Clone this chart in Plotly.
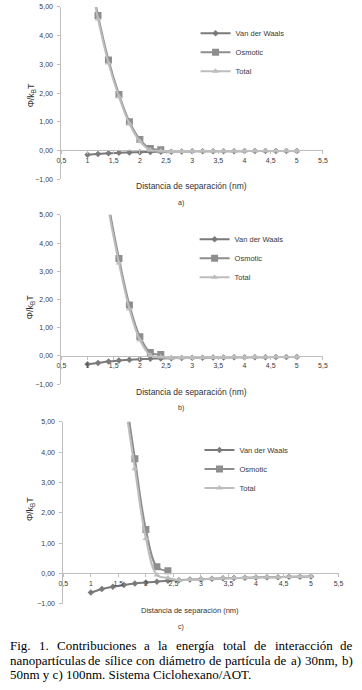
import plotly.graph_objects as go

# ---------------- data ----------------
x_all = [1.0, 1.2, 1.4, 1.6, 1.8, 2.0, 2.2, 2.4, 2.6, 2.8, 3.0,
         3.2, 3.4, 3.6, 3.8, 4.0, 4.2, 4.4, 4.6, 4.8, 5.0]
x_osm = [1.0, 1.2, 1.4, 1.6, 1.8, 2.0, 2.2, 2.4]

# a) 30 nm
vdw_a = [-0.15, -0.12, -0.10, -0.08, -0.07, -0.06, -0.05, -0.045, -0.04, -0.035, -0.03,
         -0.03, -0.03, -0.025, -0.025, -0.02, -0.02, -0.02, -0.02, -0.02, -0.02]
osm_a = [6.6, 4.70, 3.15, 1.95, 1.00, 0.38, 0.07, 0.03]
tot_a = [6.45, 4.58, 3.05, 1.87, 0.93, 0.32, 0.02, -0.015, -0.04, -0.035, -0.03,
         -0.03, -0.03, -0.025, -0.025, -0.02, -0.02, -0.02, -0.02, -0.02, -0.02]

# b) 50 nm
vdw_b = [-0.30, -0.25, -0.20, -0.16, -0.14, -0.12, -0.10, -0.09, -0.08, -0.075, -0.07,
         -0.065, -0.06, -0.055, -0.05, -0.05, -0.045, -0.045, -0.04, -0.04, -0.04]
osm_b = [12.0, 8.0, 5.4, 3.45, 1.80, 0.68, 0.12, 0.05]
tot_b = [11.7, 7.75, 5.2, 3.29, 1.66, 0.56, 0.02, -0.04, -0.08, -0.075, -0.07,
         -0.065, -0.06, -0.055, -0.05, -0.05, -0.045, -0.045, -0.04, -0.04, -0.04]

# c) 100 nm
vdw_c = [-0.63, -0.51, -0.44, -0.38, -0.33, -0.30, -0.27, -0.24, -0.22, -0.20, -0.19,
         -0.17, -0.16, -0.15, -0.14, -0.13, -0.125, -0.12, -0.11, -0.105, -0.10]
osm_c = [26.0, 17.0, 11.0, 6.4, 3.78, 1.45, 0.22, 0.09]
tot_c = [25.4, 16.5, 10.6, 6.0, 3.45, 1.15, -0.05, -0.15, -0.22, -0.20, -0.19,
         -0.17, -0.16, -0.15, -0.14, -0.13, -0.125, -0.12, -0.11, -0.105, -0.10]

series_names = ["Van der Waals", "Osmotic", "Total"]
y_ticks = [-1, 0, 1, 2, 3, 4, 5]
x_ticks = [0.5, 1, 1.5, 2, 2.5, 3, 3.5, 4, 4.5, 5, 5.5]
panel_labels = ["a)", "b)", "c)"]
x_title = "Distancia de separación (nm)"
y_title = "Φ/k<sub>B</sub>T"
caption_lines = [
    "Fig. 1. Contribuciones a la energía total de interacción de",
    "nanopartículas de sílice con diámetro de partícula de a) 30nm, b)",
    "50nm y c) 100nm. Sistema Ciclohexano/AOT.",
]

# ---------------- layout helpers ----------------
W, H = 362, 690
def px(xp): return xp / W
def py(yp): return 1 - yp / H

SANS = "Liberation Sans, Arial, sans-serif"
SERIF = "Liberation Serif, Times New Roman, serif"
TXT = "#3a3a3a"
AXC = "#bfbfbf"
COLORS = ["#7a7a7a", "#8e8e8e", "#bdbdbd"]
SYMBOLS = ["diamond", "square", "triangle-up"]
SIZES = [5, 7, 6]

# pixel geometry of each panel
panels = [
    dict(x0=58, x1=327, ytop=3, ybot=177, legx=196, legy=15, xt_y=184, xt_x=192, xt_size=8.5,
         yt_x=27, yt_y=92, lab_y=201),
    dict(x0=58, x1=327, ytop=213, ybot=384, legx=195, legy=223, xt_y=392, xt_x=192, xt_size=8.5,
         yt_x=27, yt_y=306, lab_y=408),
    dict(x0=60, x1=343, ytop=422, ybot=606, legx=200, legy=436, xt_y=613, xt_x=190, xt_size=7.5,
         yt_x=27, yt_y=510, lab_y=629),
]
data = [(vdw_a, osm_a, tot_a), (vdw_b, osm_b, tot_b), (vdw_c, osm_c, tot_c)]

fig = go.Figure()
layout = {}
annotations = []

for i, (p, (vdw, osm, tot)) in enumerate(zip(panels, data)):
    k = "" if i == 0 else str(i + 1)
    xa, ya, lg = "x" + k, "y" + k, "legend" + k
    ylo, yhi = py(p["ybot"]), py(p["ytop"])
    zero_pos = ylo + (yhi - ylo) / 6.0
    layout["xaxis" + k] = dict(
        domain=[px(p["x0"]), px(p["x1"])], range=[0.5, 5.5], tickvals=x_ticks,
        anchor="free", position=zero_pos, showline=True, linecolor=AXC, linewidth=1,
        ticks="outside", ticklen=3, tickcolor=AXC, showgrid=False, zeroline=False,
        tickfont=dict(family=SANS, size=7, color=TXT),
    )
    layout["yaxis" + k] = dict(
        domain=[ylo, yhi], range=[-1, 5], tickvals=y_ticks, tickformat=".2f",
        anchor=xa, showline=True, linecolor=AXC, linewidth=1, ticks="outside",
        ticklen=3, tickcolor=AXC, showgrid=False, zeroline=False, ticklabelstandoff=3,
        tickfont=dict(family=SANS, size=7, color=TXT),
    )
    layout[lg] = dict(
        x=px(p["legx"]), y=py(p["legy"]), xanchor="left", yanchor="top",
        font=dict(family=SANS, size=7.5, color=TXT), itemwidth=30,
        bgcolor="rgba(0,0,0,0)", borderwidth=0, tracegroupgap=0,
    )
    xs_list = [x_all, x_osm, x_all]
    for j, (yv, xv) in enumerate(zip((vdw, osm, tot), xs_list)):
        fig.add_trace(go.Scatter(
            x=xv, y=yv, mode="lines+markers", name=series_names[j],
            line=dict(color=COLORS[j], width=2, shape="spline"),
            marker=dict(symbol=SYMBOLS[j], size=SIZES[j], color=COLORS[j]),
            xaxis=xa, yaxis=ya, legend=lg, showlegend=True,
        ))
    annotations.append(dict(text=x_title, x=px(p["xt_x"]), y=py(p["xt_y"]), xref="paper",
                            yref="paper", showarrow=False, xanchor="center", yanchor="middle",
                            font=dict(family=SANS, size=p["xt_size"], color="#333333")))
    annotations.append(dict(text=y_title, x=px(p["yt_x"]), y=py(p["yt_y"]), xref="paper",
                            yref="paper", showarrow=False, xanchor="center", yanchor="middle",
                            textangle=-90, font=dict(family=SANS, size=9, color="#333333")))
    annotations.append(dict(text=panel_labels[i], x=px(181), y=py(p["lab_y"]), xref="paper",
                            yref="paper", showarrow=False, xanchor="center", yanchor="middle",
                            font=dict(family=SANS, size=7, color="#333333")))

# ---------------- justified caption (Times metrics) ----------------
TW = {' ': 250, '.': 250, ',': 250, ')': 333, '(': 333, '/': 278,
      'a': 444, 'b': 500, 'c': 444, 'd': 500, 'e': 444, 'f': 333, 'g': 500, 'h': 500,
      'i': 278, 'j': 278, 'k': 500, 'l': 278, 'm': 778, 'n': 500, 'o': 500, 'p': 500,
      'q': 500, 'r': 333, 's': 389, 't': 278, 'u': 500, 'v': 500, 'w': 722, 'x': 500,
      'y': 500, 'z': 444, 'A': 722, 'C': 667, 'F': 556, 'O': 722, 'S': 556, 'T': 611,
      'í': 278, 'á': 444, 'ó': 500}
CAP_SIZE = 13
def wwidth(w):
    return sum(TW.get(ch, 500 if not ch.isupper() else 667) for ch in w) / 1000.0 * CAP_SIZE

cap_left, cap_right = 4, 356
cap_ys = [648, 663, 677]
for li, (line, yy) in enumerate(zip(caption_lines, cap_ys)):
    words = line.split(" ")
    if li < len(caption_lines) - 1:
        total_w = sum(wwidth(w) for w in words)
        gap = (cap_right - cap_left - total_w) / (len(words) - 1)
        xcur = cap_left
        for w in words:
            annotations.append(dict(text=w, x=px(xcur), y=py(yy), xref="paper", yref="paper",
                                    showarrow=False, xanchor="left", yanchor="middle", borderpad=0,
                                    font=dict(family=SERIF, size=CAP_SIZE, color="#000000")))
            xcur += wwidth(w) + gap
    else:
        annotations.append(dict(text=line, x=px(cap_left), y=py(yy), xref="paper", yref="paper",
                                showarrow=False, xanchor="left", yanchor="middle", borderpad=0,
                                font=dict(family=SERIF, size=CAP_SIZE, color="#000000")))

fig.update_layout(
    width=W, height=H, margin=dict(l=0, r=0, t=0, b=0),
    paper_bgcolor="white", plot_bgcolor="white", separators=",.",
    annotations=annotations, **layout,
)

fig.write_html("out.html", config={"displayModeBar": False},
               post_script="document.body.style.margin='0';document.body.style.padding='0';"
                           "document.documentElement.style.overflow='hidden';")
